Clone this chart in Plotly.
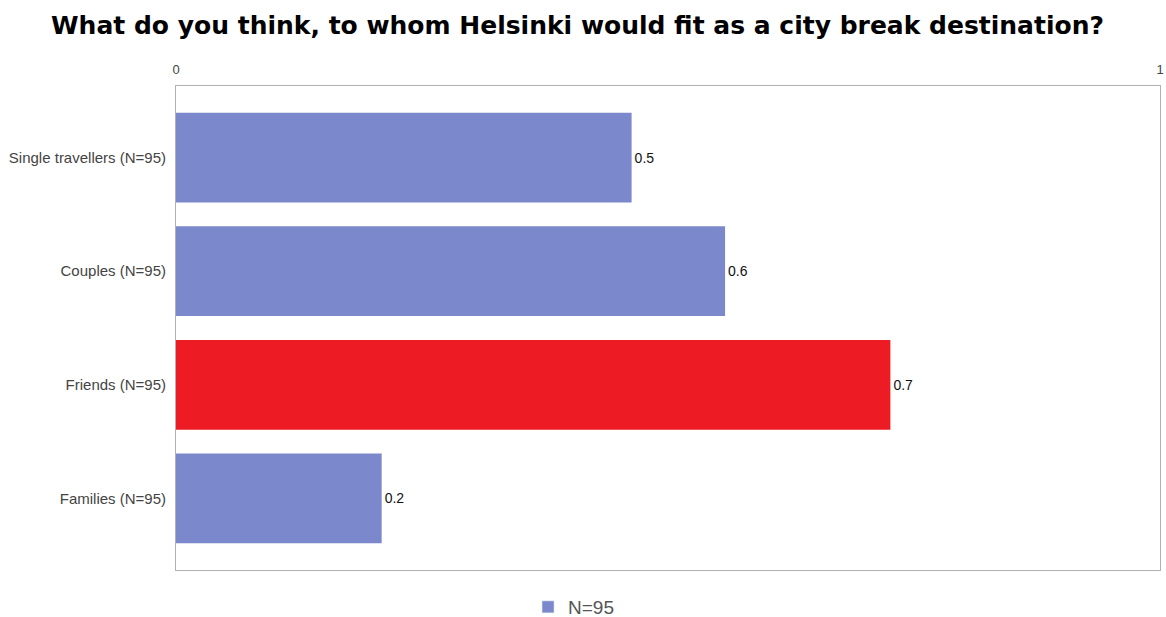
import plotly.graph_objects as go

categories = ["Single travellers (N=95)", "Couples (N=95)", "Friends (N=95)", "Families (N=95)"]
values = [0.463, 0.558, 0.726, 0.209]
bar_colors = ["#7b88cc", "#7b88cc", "#ed1c24", "#7b88cc"]
series_name = "N=95"
title_text = "What do you think, to whom Helsinki would fit as a city break destination?"
x_ticks = [0, 1]

fig = go.Figure()
fig.add_trace(go.Bar(
    y=categories, x=values, orientation="h", name=series_name,
    marker=dict(color=bar_colors, line=dict(width=0)),
    text=[f"{v:.1f}" for v in values], textposition="outside",
    textfont=dict(family="Liberation Sans, Arial", size=14, color="#111111"),
    cliponaxis=False, width=0.79, showlegend=False,
))
# legend entry (series colour)
fig.add_trace(go.Bar(
    y=[None], x=[None], orientation="h", name=series_name,
    marker=dict(color="#7b88cc"), showlegend=True,
))

fig.update_layout(
    width=1166, height=617,
    paper_bgcolor="white", plot_bgcolor="white",
    margin=dict(l=176, r=6, t=86, b=47, autoexpand=False),
    title=dict(text=title_text, x=0.4953, xanchor="center", y=0.9595, yanchor="middle",
               font=dict(family="DejaVu Sans, Verdana", size=25, color="black", weight="bold")),
    xaxis=dict(range=[0, 1], side="top", tickvals=x_ticks, ticktext=[str(t) for t in x_ticks],
               showgrid=False, zeroline=False, showline=True, mirror=True,
               linecolor="#b0b0b0", linewidth=1, ticks="", automargin=False, ticklabelstandoff=6,
               tickfont=dict(family="Liberation Sans, Arial", size=13, color="#444444")),
    yaxis=dict(range=[3.63, -0.63], showgrid=False, zeroline=False, showline=True, mirror=True,
               linecolor="#b0b0b0", linewidth=1, ticks="", automargin=False, ticklabelstandoff=6,
               tickfont=dict(family="Liberation Sans, Arial", size=15, color="#444444")),
    showlegend=True,
    legend=dict(orientation="h", x=0.404, xanchor="center", y=0.0162, yanchor="middle",
                yref="container",
                font=dict(family="Liberation Sans, Arial", size=19, color="#555555")),
    bargap=0.21,
)
fig.write_html(
    "out.html",
    config={"displayModeBar": False},
    post_script="document.body.style.margin='0px';document.documentElement.style.overflow='hidden';",
)
